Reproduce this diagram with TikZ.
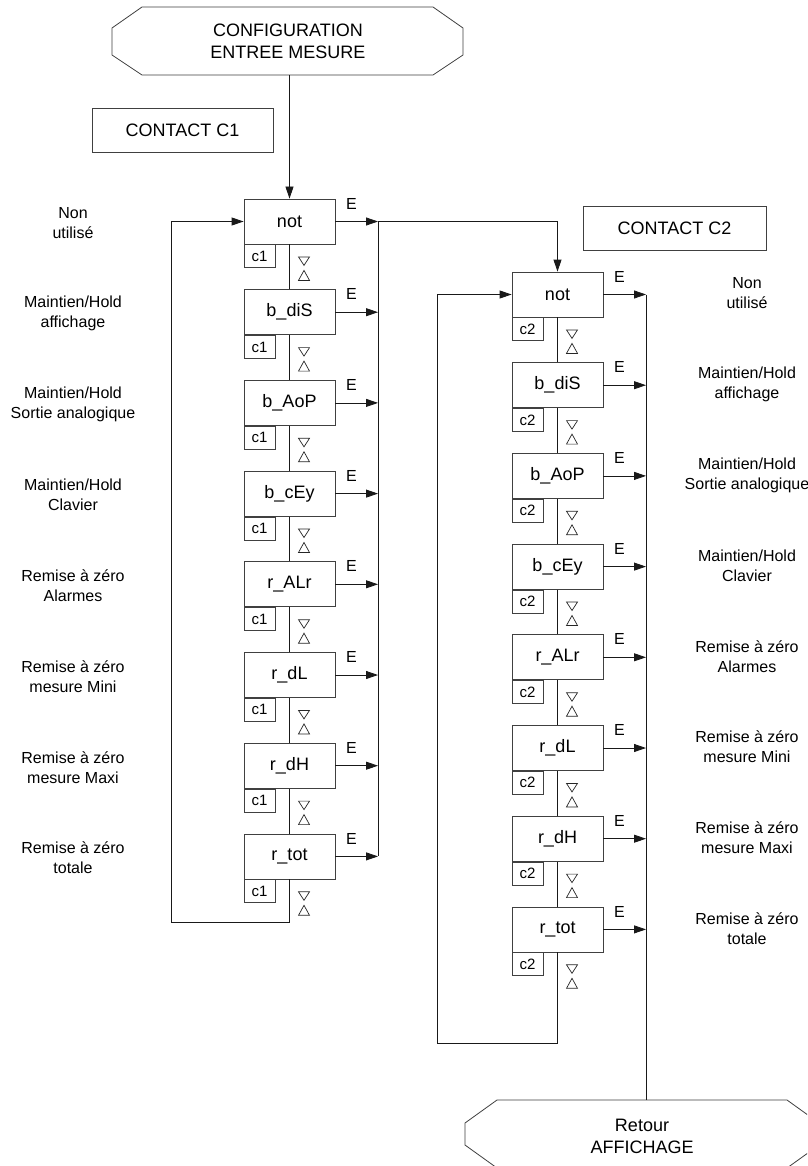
\documentclass[tikz,border=0pt]{standalone}
\usepackage{fontspec}
\setmainfont{Liberation Sans}
\usetikzlibrary{arrows.meta,calc}
\begin{document}
\begin{tikzpicture}[x=1pt,y=-1pt,
  line width=0.8pt,
  menu/.style={draw=black!75, minimum width=91pt, minimum height=45pt, inner sep=0pt,
    font=\fontsize{18}{21}\selectfont},
  tag/.style={draw=black!75, minimum width=31pt, minimum height=23pt, inner sep=0pt,
    anchor=north west, font=\fontsize{15}{18}\selectfont},
  elabel/.style={inner sep=0pt, font=\fontsize{16}{19}\selectfont},
  note/.style={align=center, inner sep=0pt, font=\fontsize{16}{20}\selectfont},
  headline/.style={align=center, inner sep=0pt, font=\fontsize{18}{22}\selectfont},
  contact/.style={draw=black!75, inner sep=0pt, font=\fontsize{18}{21}\selectfont},
  flow/.style={draw=black!90, -{Triangle[length=12pt,width=8pt]}},
  wire/.style={draw=black!90},
  tri/.style={draw=black!85, line width=0.7pt},
  ]
\useasboundingbox (0,0) rectangle (807,1166);
\fill[white] (0,0) rectangle (807,1166);

% entry octagon
\draw[black!75] (142,7) -- (433,7) -- (463,28) -- (463,55) -- (433,75)
  -- (142,75) -- (112,55) -- (112,28) -- cycle;
\node[headline, minimum width=351pt, minimum height=68pt] (start) at (288,41)
  {CONFIGURATION\\ENTREE MESURE};

% contact headers
\node[contact, minimum width=181pt, minimum height=44pt] (hc1) at (182.5,130) {CONTACT C1};
\node[contact, minimum width=183pt, minimum height=44pt] (hc2) at (674.5,228) {CONTACT C2};

% menu steps of both columns
\foreach \txt [count=\i] in {not,b\_diS,b\_AoP,b\_cEy,r\_ALr,r\_dL,r\_dH,r\_tot} {
  \node[menu] (L\i) at (289.5,{221.5+90.7*(\i-1)}) {\txt};
  \node[tag] (cL\i) at (L\i.south west) {c1};
  \node[elabel] (eL\i) at ($(L\i.north east)+(16,5)$) {E};
  \node[menu] (R\i) at (557.5,{294.5+90.7*(\i-1)}) {\txt};
  \node[tag] (cR\i) at (R\i.south west) {c2};
  \node[elabel] (eR\i) at ($(R\i.north east)+(16,5)$) {E};
  % up/down keys
  \draw[tri] ($(L\i.south)+(9,12.5)$) -- ++(11,0) -- ++(-5.5,8.5) -- cycle;
  \draw[tri] ($(L\i.south)+(14.5,26)$) -- ++(5.5,10) -- ++(-11,0) -- cycle;
  \draw[tri] ($(R\i.south)+(9,12.5)$) -- ++(11,0) -- ++(-5.5,8.5) -- cycle;
  \draw[tri] ($(R\i.south)+(14.5,26)$) -- ++(5.5,10) -- ++(-11,0) -- cycle;
}

% descriptions
\foreach \txt [count=\i] in {{Non\\utilisé},{Maintien/Hold\\affichage},
  {Maintien/Hold\\Sortie analogique},{Maintien/Hold\\Clavier},
  {Remise à zéro\\Alarmes},{Remise à zéro\\mesure Mini},
  {Remise à zéro\\mesure Maxi},{Remise à zéro\\totale}} {
  \node[note] (nL\i) at (73,{223+90.7*(\i-1)}) {\txt};
  \node[note] (nR\i) at (747,{293.5+90.7*(\i-1)}) {\txt};
}

% vertical links between steps
\foreach \i in {1,...,7} {
  \pgfmathtruncatemacro{\j}{\i+1}
  \draw[wire] (L\i.south) -- (L\j.north);
  \draw[wire] (R\i.south) -- (R\j.north);
}

% return octagon
\begin{scope}
\clip (0,0) rectangle (807,1166);
\draw[black!75] (497,1100) -- (787,1100) -- (819,1123) -- (819,1145) -- (787,1168)
  -- (497,1168) -- (465,1145) -- (465,1123) -- cycle;
\end{scope}
\node[headline, minimum width=354pt, minimum height=72pt] (ret) at (642,1136)
  {Retour\\AFFICHAGE};

% E buses
\coordinate (busL) at (378,0);
\coordinate (busR) at (646,0);
\foreach \i in {1,...,8} {
  \draw[flow] (L\i.east) -- (L\i.east -| busL);
  \draw[flow] (R\i.east) -- (R\i.east -| busR);
}
\draw[wire] (L1.east -| busL) -- (L8.east -| busL);
\draw[flow] (L1.east -| busL) -| (R1.north);
\draw[wire] (R1.east -| busR) -- (busR |- ret.north);

% entry and loops
\draw[flow] (start.south -| L1.north) -- (L1.north);
\coordinate (loopL) at (171,922);
\draw[flow] (L8.south) -- (L8.south |- loopL) -- (loopL) |- (L1.west);
\coordinate (loopR) at (437,1043);
\draw[flow] (R8.south) -- (R8.south |- loopR) -- (loopR) |- (R1.west);
\end{tikzpicture}
\end{document}
